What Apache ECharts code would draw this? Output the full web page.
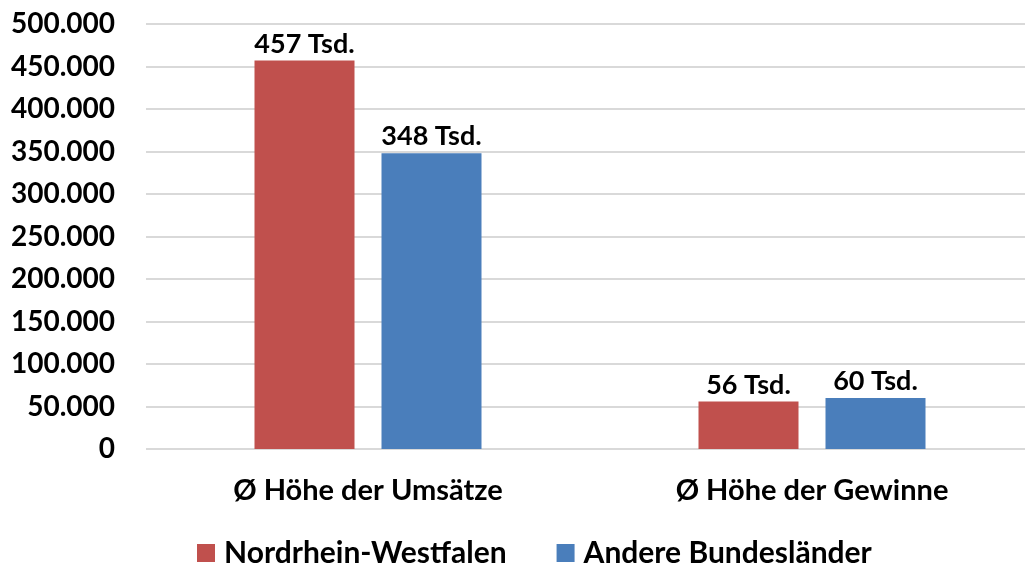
<!DOCTYPE html>
<html>
<head>
<meta charset="utf-8">
<script src="https://cdn.jsdelivr.net/npm/echarts@6/dist/echarts.min.js"></script>
<style>
  html, body { margin: 0; padding: 0; background: #fff; }
  #main { width: 1025px; height: 568px; }
</style>
</head>
<body>
<div id="main"></div>
<script>
// Daten
var categories = ['Ø Höhe der Umsätze', 'Ø Höhe der Gewinne'];
var seriesNames = ['Nordrhein-Westfalen', 'Andere Bundesländer'];
var nrwValues = [457000, 56000];
var andereValues = [348000, 60000];
var colors = ['#c0504d', '#4a7ebb'];

function fmtDe(v) {
    return String(v).replace(/\B(?=(\d{3})+(?!\d))/g, '.');
}

var myChart = echarts.init(document.getElementById('main'));

var font = 'Lato, "Open Sans", sans-serif';
var labelStyle = {
    show: true,
    position: 'top',
    distance: 3,
    color: '#000',
    fontWeight: 'bold',
    fontSize: 27,
    fontFamily: font,
    formatter: function (p) { return Math.round(p.value / 1000) + ' Tsd.'; }
};

var option = {
    animation: false,
    legend: {
        data: seriesNames,
        bottom: 0,
        padding: 0,
        left: 197,
        itemWidth: 18,
        itemHeight: 18,
        itemGap: 50,
        icon: 'rect',
        textStyle: { fontSize: 30, fontWeight: 'bold', fontFamily: font, color: '#000', padding: [0, 0, 0, 4] }
    },
    grid: { left: 146, top: 24, width: 888, height: 425, outerBoundsMode: 'none', containLabel: false },
    xAxis: {
        type: 'category',
        data: categories,
        axisLine: { show: false },
        axisTick: { show: false },
        axisLabel: { fontSize: 29, fontWeight: 'bold', fontFamily: font, color: '#000', margin: 27 }
    },
    yAxis: {
        type: 'value',
        min: 0,
        max: 500000,
        interval: 50000,
        axisLine: { show: false },
        axisTick: { show: false },
        splitLine: { lineStyle: { color: '#d9d9d9', width: 2 } },
        axisLabel: {
            fontSize: 28, fontWeight: 'bold', fontFamily: font, color: '#000', margin: 31,
            formatter: fmtDe
        }
    },
    series: [
        { name: seriesNames[0], type: 'bar', data: nrwValues, barWidth: 100, barGap: '27%',
          itemStyle: { color: colors[0] }, label: labelStyle },
        { name: seriesNames[1], type: 'bar', data: andereValues, barWidth: 100,
          itemStyle: { color: colors[1] }, label: labelStyle }
    ]
};
myChart.setOption(option);
</script>
</body>
</html>
